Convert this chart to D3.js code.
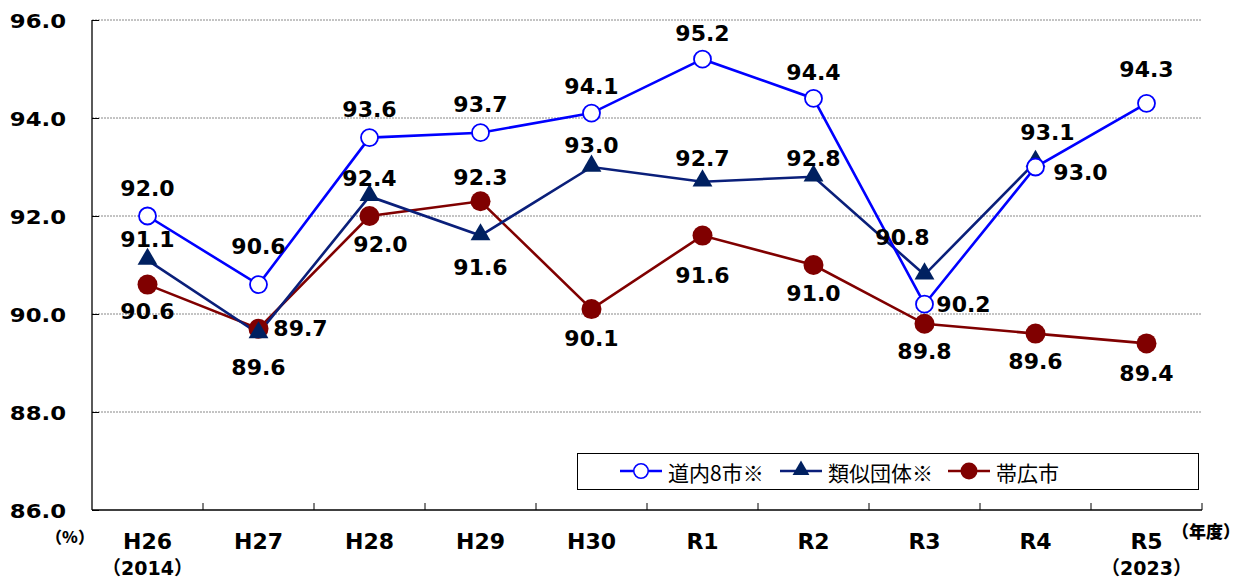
<!doctype html>
<html lang="ja">
<head>
<meta charset="utf-8">
<style>
  body { margin: 0; background: #fff; }
  text { font-family: "DejaVu Sans", "Noto Sans CJK JP", sans-serif; font-weight: bold; fill: #000; }
  .leg text { font-family: "Noto Sans CJK JP", sans-serif; font-weight: normal; }
</style>
</head>
<body>
<script src="https://cdnjs.cloudflare.com/ajax/libs/d3/7.8.5/d3.min.js"></script>
<script>
// data
var years = ["H26", "H27", "H28", "H29", "H30", "R1", "R2", "R3", "R4", "R5"];
var yearSub = ["（2014）", "", "", "", "", "", "", "", "", "（2023）"];
var dounai = [92.0, 90.6, 93.6, 93.7, 94.1, 95.2, 94.4, 90.2, 93.0, 94.3];
var ruiji = [91.1, 89.6, 92.4, 91.6, 93.0, 92.7, 92.8, 90.8, 93.1, null];
var obihiro = [90.6, 89.7, 92.0, 92.3, 90.1, 91.6, 91.0, 89.8, 89.6, 89.4];
var yTicks = [86, 88, 90, 92, 94, 96];

// label offsets (dx, dy) of the label centre from the marker
var dounaiLab = [[0,-28],[0,-38],[0,-28],[0,-28],[0,-27],[0,-26],[0,-26],[39,0],[45,5],[0,-34]];
var ruijiLab = [[0,-21],[0,34],[0,-18],[0,32],[0,-22],[0,-23],[0,-18],[-22,-37],[12,-30],null];
var obihiroLab = [[0,27],[42,0],[11,28],[0,-24],[0,29],[0,40],[0,28],[0,28],[0,28],[0,30]];

var W = 1244, H = 578;
var m = {left: 92, right: 42, top: 20, bottom: 68};
var iw = W - m.left - m.right, ih = H - m.top - m.bottom;

var svg = d3.select("body").append("svg").attr("width", W).attr("height", H);
var g = svg.append("g").attr("transform", "translate(" + m.left + "," + m.top + ")");

var x = d3.scaleBand().domain(years).range([0, iw]);
var y = d3.scaleLinear().domain([86, 96]).range([ih, 0]);
var cx = function(i) { return x(years[i]) + x.bandwidth() / 2; };

// grid
g.selectAll(".grid").data(yTicks.filter(function(t) { return t > 86; })).enter()
  .append("line")
  .attr("x1", 0).attr("x2", iw)
  .attr("y1", function(d) { return y(d); }).attr("y2", function(d) { return y(d); })
  .attr("stroke", "#888").attr("stroke-width", 1).attr("stroke-dasharray", "2,1");

// axes
var yAxis = g.append("g").call(d3.axisLeft(y).tickValues(yTicks).tickSize(-7).tickFormat(""));
yAxis.select(".domain").attr("d", "M0,0V" + ih).attr("stroke", "#000").attr("stroke-width", 1.3);
yAxis.selectAll(".tick line").attr("stroke", "#000");

var bounds = years.map(function(d) { return x(d); }).concat([iw]);
g.append("line").attr("x1", 0).attr("x2", iw).attr("y1", ih).attr("y2", ih)
  .attr("stroke", "#000").attr("stroke-width", 1.3);
g.selectAll(".xtick").data(bounds.slice(1)).enter().append("line")
  .attr("x1", function(d) { return d; }).attr("x2", function(d) { return d; })
  .attr("y1", ih).attr("y2", ih - 7).attr("stroke", "#000");

// y labels
g.selectAll(".ylab").data(yTicks).enter().append("text")
  .attr("transform", function(d) { return "translate(-26," + (y(d) + 2) + ") scale(1.2,1)"; })
  .attr("text-anchor", "end").attr("dominant-baseline", "central")
  .style("font-size", "19px")
  .text(function(d) { return d.toFixed(1); });

// x labels
g.selectAll(".xlab").data(years).enter().append("text")
  .attr("x", function(d, i) { return cx(i); }).attr("y", ih + 31)
  .attr("text-anchor", "middle").attr("dominant-baseline", "central")
  .style("font-size", "22px").text(function(d) { return d; });
g.selectAll(".xsub").data(yearSub).enter().append("text")
  .attr("x", function(d, i) { return cx(i); }).attr("y", ih + 58)
  .attr("text-anchor", "middle").attr("dominant-baseline", "central")
  .style("font-size", "19px").text(function(d) { return d; });

svg.append("text").attr("x", 70).attr("y", 536).attr("text-anchor", "middle")
  .attr("dominant-baseline", "central").style("font-size", "16px")
  .style("font-family", "'Noto Sans CJK JP', sans-serif").style("font-weight", "900").text("（%）");
svg.append("text").attr("x", 1206).attr("y", 530).attr("text-anchor", "middle")
  .attr("dominant-baseline", "central").style("font-size", "17px")
  .style("font-family", "'Noto Sans CJK JP', sans-serif").style("font-weight", "900").text("（年度）");

var series = [
  {name: "道内8市※", vals: dounai, lab: dounaiLab, color: "#0000ff", mark: "circle"},
  {name: "類似団体※", vals: ruiji, lab: ruijiLab, color: "#0a1f7a", mark: "triangle"},
  {name: "帯広市", vals: obihiro, lab: obihiroLab, color: "#800000", mark: "dot"}
];
var triFill = "#002060";

function drawMarker(sel, s) {
  if (s.mark === "circle") {
    sel.append("circle").attr("r", 8.5).attr("fill", "#fff")
      .attr("stroke", s.color).attr("stroke-width", 1.8);
  } else if (s.mark === "triangle") {
    sel.append("path").attr("d", d3.symbol().type(d3.symbolTriangle).size(170))
      .attr("transform", "translate(0,-1)")
      .attr("fill", triFill);
  } else {
    sel.append("circle").attr("r", 10).attr("fill", s.color);
  }
}

// draw order: obihiro, ruiji, dounai lines; markers on top
var drawOrder = [2, 1, 0];
drawOrder.forEach(function(k) {
  var s = series[k];
  var line = d3.line().defined(function(d) { return d != null; })
    .x(function(d, i) { return cx(i); }).y(function(d) { return y(d); });
  g.append("path").datum(s.vals).attr("d", line).attr("fill", "none")
    .attr("stroke", s.color).attr("stroke-width", 2.6);
});
drawOrder.forEach(function(k) {
  var s = series[k];
  s.vals.forEach(function(v, i) {
    if (v == null) return;
    var mk = g.append("g").attr("transform", "translate(" + cx(i) + "," + y(v) + ")");
    drawMarker(mk, s);
  });
});
series.forEach(function(s) {
  s.vals.forEach(function(v, i) {
    if (v == null) return;
    var o = s.lab[i];
    g.append("text").attr("x", cx(i) + o[0]).attr("y", y(v) + o[1])
      .attr("text-anchor", "middle")
      .attr("dominant-baseline", "central")
      .style("font-size", "22px").text(v.toFixed(1));
  });
});

// legend
var leg = svg.append("g").attr("class", "leg");
leg.append("rect").attr("x", 577.5).attr("y", 453.5).attr("width", 621).attr("height", 36)
  .attr("fill", "#fff").attr("stroke", "#000").attr("stroke-width", 1);
var legX = [620, 780, 948];
series.forEach(function(s, i) {
  var lg = leg.append("g").attr("transform", "translate(" + legX[i] + ",471)");
  lg.append("line").attr("x1", 0).attr("x2", 42).attr("stroke", s.color).attr("stroke-width", 2.6);
  var mk = lg.append("g");
  drawMarker(mk, s);
  mk.attr("transform", "translate(21,0) scale(0.85)");
  lg.append("text").attr("x", 48).attr("y", 1).attr("dominant-baseline", "central")
    .style("font-size", "21px").text(s.name);
});
</script>
</body>
</html>
